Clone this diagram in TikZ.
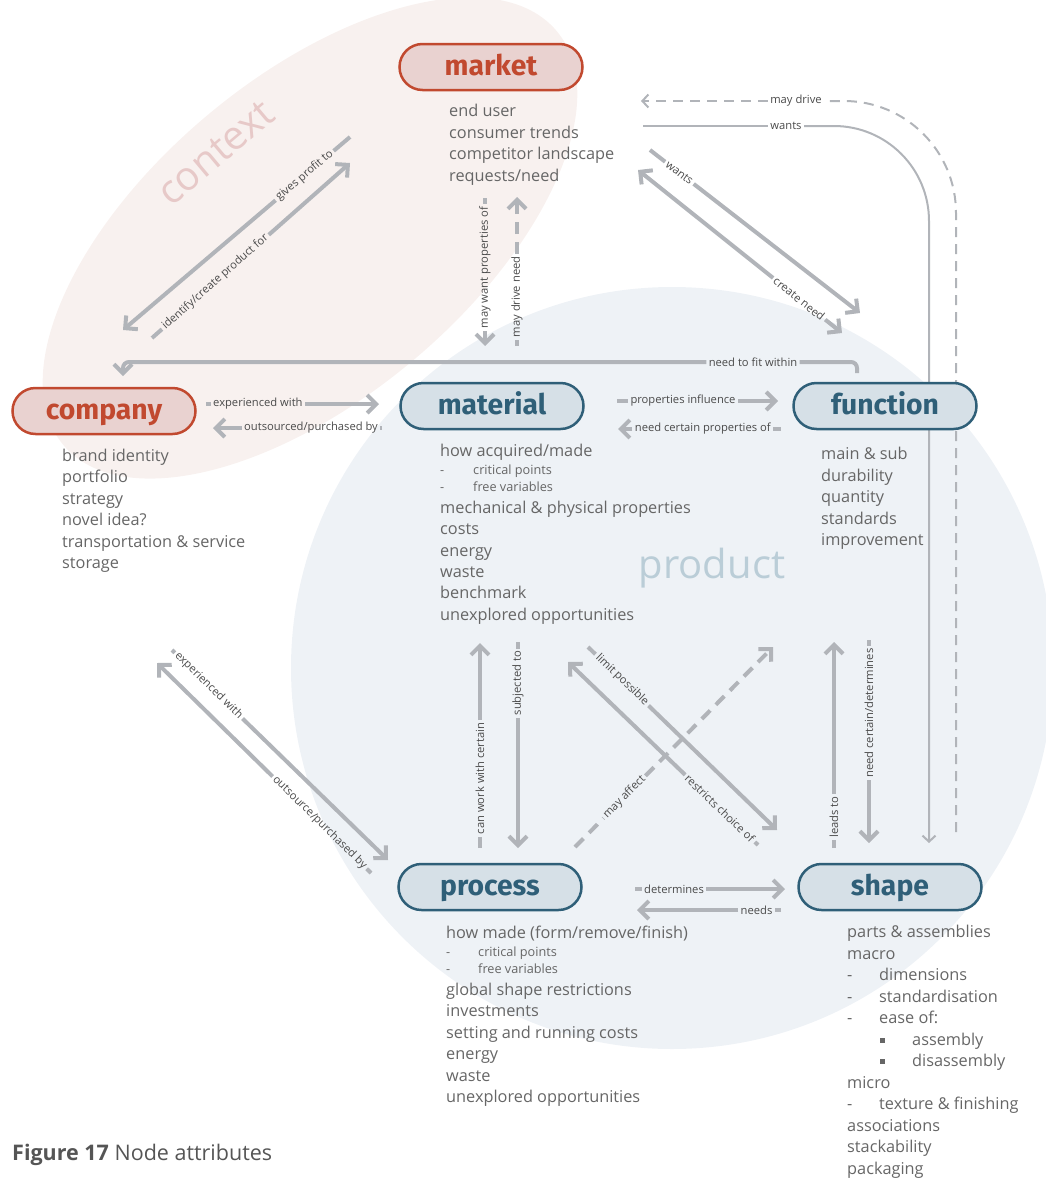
\documentclass[tikz,border=0pt]{standalone}
\usepackage{fontspec}
\setmainfont{Open Sans}
\newfontfamily\titlefont{Fira Sans}
\usetikzlibrary{arrows.meta,calc}

\definecolor{ctxfill}{HTML}{F8F1EF}
\definecolor{prodfill}{HTML}{EEF2F6}
\definecolor{redline}{HTML}{C1492F}
\definecolor{redfill}{HTML}{E9D2D0}
\definecolor{blueline}{HTML}{2F5F78}
\definecolor{bluefill}{HTML}{D6E0E7}
\definecolor{arrowgray}{HTML}{B1B4B9}
\definecolor{bodygray}{HTML}{666666}
\definecolor{lblgray}{HTML}{4A4A4A}
\definecolor{ctxtext}{HTML}{E7C9C8}
\definecolor{prodtext}{HTML}{BACDD7}
\definecolor{capgray}{HTML}{555555}

\tikzset{
  pill/.style={rounded corners=23pt, minimum width=183pt, minimum height=46pt,
    line width=2.5pt, inner sep=0pt, text height=20pt, text depth=4pt,
    font=\titlefont\bfseries\fontsize{28.3}{28}\selectfont},
  redpill/.style={pill, draw=redline, fill=redfill, text=redline},
  bluepill/.style={pill, draw=blueline, fill=bluefill, text=blueline},
  link/.style={draw=arrowgray, line width=4pt},
  fine/.style={draw=arrowgray, line width=2pt},
  headed/.style={-{Straight Barb[length=9pt,width=18pt]}},
  thinhead/.style={-{Straight Barb[length=6pt,width=13pt]}},
  bothheads/.style={{Straight Barb[length=9pt,width=18pt]}-},
  dashlink/.style={dash pattern=on 12pt off 8pt},
  lbl/.style={font=\fontsize{11.2}{13}\selectfont, text=lblgray, inner sep=2.5pt, outer sep=0pt},
  body/.style={font=\fontsize{16.3}{19}\selectfont, text=bodygray, anchor=base west, inner sep=0pt},
  small/.style={font=\fontsize{12.7}{15}\selectfont, text=bodygray, anchor=base west, inner sep=0pt},
  bullet/.style={fill=bodygray, minimum size=5pt, inner sep=0pt},
}

\begin{document}
\begin{tikzpicture}[x=1pt,y=-1pt]
\useasboundingbox (0,0) rectangle (1046,1178);

% background regions
\fill[ctxfill, rotate around={40:(310,238)}] (310,238) ellipse [x radius=322pt, y radius=160pt];
\fill[prodfill] (672,668) circle [radius=381pt];
\node[rotate=40, font=\fontsize{40}{40}\selectfont, text=ctxtext] (ctx) at (216,153) {context};
\node[font=\fontsize{40}{40}\selectfont, text=prodtext] (prod) at (712,568) {product};

% market <-> company
\coordinate (mcA1) at (350,137); \coordinate (mcA2) at (123,330);
\node[lbl, rotate=40.4] (mcAl) at ($(mcA1)!0.2!(mcA2)$) {gives profit to};
\draw[link] (mcA1) -- (mcAl);
\draw[link, headed] (mcAl) -- (mcA2);
\coordinate (mcB1) at (152,338); \coordinate (mcB2) at (350,163);
\node[lbl, rotate=41.5] (mcBl) at ($(mcB1)!0.32!(mcB2)$) {identify/create product for};
\draw[link] (mcB1) -- (mcBl);
\draw[link, headed] (mcBl) -- (mcB2);

% market <-> function
\coordinate (mfA1) at (650,150); \coordinate (mfA2) at (860,313);
\node[lbl, rotate=-37.8] (mfAl) at ($(mfA1)!0.14!(mfA2)$) {wants};
\draw[link] (mfA1) -- (mfAl);
\draw[link, headed] (mfAl) -- (mfA2);
\coordinate (mfB1) at (638,170); \coordinate (mfB2) at (842,333);
\node[lbl, rotate=-38.6] (mfBl) at ($(mfB1)!0.79!(mfB2)$) {create need};
\draw[link, bothheads] (mfB1) -- (mfBl);
\draw[link, headed] (mfBl) -- (mfB2);

% market <-> material
\coordinate (mmA1) at (485,198); \coordinate (mmA2) at (485,346);
\node[lbl, rotate=90] (mmAl) at ($(mmA1)!0.47!(mmA2)$) {may want properties of};
\draw[link] (mmA1) -- (mmAl);
\draw[link, headed] (mmAl) -- (mmA2);
\coordinate (mmB1) at (517,346); \coordinate (mmB2) at (517,197);
\node[lbl, rotate=90] (mmBl) at ($(mmB1)!0.33!(mmB2)$) {may drive need};
\draw[link, dashlink] (mmB1) -- (mmBl);
\draw[link, dashlink, headed] (mmBl) -- (mmB2);

% function -> company
\coordinate (fcA) at (857,373); \coordinate (fcB) at (123,376);
\node[lbl] (fcl) at (753,362) {need to fit within};
\draw[link, rounded corners=6pt] (fcA) |- (fcl);
\draw[link, headed, rounded corners=6pt] (fcl) -| (fcB);

% company <-> material
\coordinate (cmA1) at (206,404); \coordinate (cmA2) at (379,404);
\node[lbl] (cmAl) at ($(cmA1)!0.3!(cmA2)$) {experienced with};
\draw[link] (cmA1) -- (cmAl);
\draw[link, headed] (cmAl) -- (cmA2);
\coordinate (cmB1) at (382,428); \coordinate (cmB2) at (213,428);
\node[lbl] (cmBl) at ($(cmB1)!0.42!(cmB2)$) {outsourced/purchased by};
\draw[link] (cmB1) -- (cmBl);
\draw[link, headed] (cmBl) -- (cmB2);

% material <-> function
\coordinate (mnA1) at (617,401); \coordinate (mnA2) at (778,401);
\node[lbl] (mnAl) at ($(mnA1)!0.41!(mnA2)$) {properties influence};
\draw[link] (mnA1) -- (mnAl);
\draw[link, headed] (mnAl) -- (mnA2);
\coordinate (mnB1) at (781,429); \coordinate (mnB2) at (618,429);
\node[lbl] (mnBl) at ($(mnB1)!0.48!(mnB2)$) {need certain properties of};
\draw[link] (mnB1) -- (mnBl);
\draw[link, headed] (mnBl) -- (mnB2);

% material <-> process
\coordinate (mpA1) at (480,848); \coordinate (mpA2) at (480,643);
\node[lbl, rotate=90] (mpAl) at ($(mpA1)!0.34!(mpA2)$) {can work with certain};
\draw[link] (mpA1) -- (mpAl);
\draw[link, headed] (mpAl) -- (mpA2);
\coordinate (mpB1) at (518,642); \coordinate (mpB2) at (518,848);
\node[lbl, rotate=90] (mpBl) at ($(mpB1)!0.2!(mpB2)$) {subjected to};
\draw[link] (mpB1) -- (mpBl);
\draw[link, headed] (mpBl) -- (mpB2);

% material <-> shape
\coordinate (msA1) at (588,647); \coordinate (msA2) at (777,830);
\node[lbl, rotate=-44.1] (msAl) at ($(msA1)!0.18!(msA2)$) {limit possible};
\draw[link] (msA1) -- (msAl);
\draw[link, headed] (msAl) -- (msA2);
\coordinate (msB1) at (758,845); \coordinate (msB2) at (568,662);
\node[lbl, rotate=-43.9] (msBl) at ($(msB1)!0.2!(msB2)$) {restricts choice of};
\draw[link] (msB1) -- (msBl);
\draw[link, headed] (msBl) -- (msB2);

% process -> function
\coordinate (pfA1) at (575,847); \coordinate (pfA2) at (773,647);
\node[lbl, rotate=45.3] (pfAl) at ($(pfA1)!0.25!(pfA2)$) {may affect};
\draw[link, dashlink] (pfA1) -- (pfAl);
\draw[link, dashlink, headed] (pfAl) -- (pfA2);

% function <-> shape
\coordinate (fsA1) at (834,848); \coordinate (fsA2) at (834,642);
\node[lbl, rotate=90] (fsAl) at ($(fsA1)!0.15!(fsA2)$) {leads to};
\draw[link] (fsA1) -- (fsAl);
\draw[link, headed] (fsAl) -- (fsA2);
\coordinate (fsB1) at (869,640); \coordinate (fsB2) at (869,843);
\node[lbl, rotate=90] (fsBl) at ($(fsB1)!0.36!(fsB2)$) {need certain/determines};
\draw[link] (fsB1) -- (fsBl);
\draw[link, headed] (fsBl) -- (fsB2);

% company <-> process
\coordinate (cpA1) at (172,650); \coordinate (cpA2) at (388,860);
\node[lbl, rotate=-44.2] (cpAl) at ($(cpA1)!0.17!(cpA2)$) {experienced with};
\draw[link] (cpA1) -- (cpAl);
\draw[link, headed] (cpAl) -- (cpA2);
\coordinate (cpB1) at (371,873); \coordinate (cpB2) at (157,663);
\node[lbl, rotate=-44.5] (cpBl) at ($(cpB1)!0.24!(cpB2)$) {outsource/purchased by};
\draw[link] (cpB1) -- (cpBl);
\draw[link, headed] (cpBl) -- (cpB2);

% process <-> shape
\coordinate (psA1) at (635,889); \coordinate (psA2) at (785,889);
\node[lbl] (psAl) at ($(psA1)!0.26!(psA2)$) {determines};
\draw[link] (psA1) -- (psAl);
\draw[link, headed] (psAl) -- (psA2);
\coordinate (psB1) at (781,910); \coordinate (psB2) at (637,910);
\node[lbl] (psBl) at ($(psB1)!0.17!(psB2)$) {needs};
\draw[link] (psB1) -- (psBl);
\draw[link, headed] (psBl) -- (psB2);

% market -> shape, around the right side
\coordinate (mwA) at (643,126); \coordinate (mwB) at (929,843);
\node[lbl] (mwl) at (786,126) {wants};
\draw[fine] (mwA) -- (mwl);
\draw[fine, thinhead, rounded corners=95pt] (mwl) -| (mwB);
\coordinate (mdA) at (956,832); \coordinate (mdB) at (641,101);
\node[lbl] (mdl) at (796,101) {may drive};
\draw[fine, dash pattern=on 10pt off 7pt, rounded corners=112pt] (mdA) |- (mdl);
\draw[fine, dash pattern=on 10pt off 7pt, thinhead] (mdl) -- (mdB);

% the six entities
\node[redpill] (market) at (491,67) {market};
\node[redpill] (company) at (104,411) {company};
\node[bluepill] (material) at (492,406) {material};
\node[bluepill] (function) at (885,406) {function};
\node[bluepill] (process) at (490,887) {process};
\node[bluepill] (shape) at (890,887) {shape};

% attribute lists
\foreach \t [count=\i] in {end user, consumer trends, competitor landscape, requests/need}
  \node[body] (mk\i) at (449, {116.5+(\i-1)*21.6}) {\t};
\foreach \t [count=\i] in {brand identity, portfolio, strategy, novel idea?, transportation \& service, storage}
  \node[body] (co\i) at (62, {461.5+(\i-1)*21.4}) {\t};
\foreach \t [count=\i] in {main \& sub, durability, quantity, standards, improvement}
  \node[body] (fu\i) at (821, {459.5+(\i-1)*21.6}) {\t};

\node[body] (ma1) at (440,456.5) {how acquired/made};
\node[small] (ma2d) at (440,474) {-};
\node[small] (ma2) at (473,474) {critical points};
\node[small] (ma3d) at (440,491) {-};
\node[small] (ma3) at (473,491) {free variables};
\foreach \t/\y [count=\i] in {mechanical \& physical properties/508, costs/529, energy/551, waste/572, benchmark/593, unexplored opportunities/615}
  \node[body] (mb\i) at (440, {\y+5.5}) {\t};

\node[body] (pr1) at (446,938.5) {how made (form/remove/finish)};
\node[small] (pr2d) at (446,956) {-};
\node[small] (pr2) at (478,956) {critical points};
\node[small] (pr3d) at (446,973) {-};
\node[small] (pr3) at (478,973) {free variables};
\foreach \t/\y [count=\i] in {global shape restrictions/990, investments/1011, setting and running costs/1033, energy/1054, waste/1076, unexplored opportunities/1097}
  \node[body] (pb\i) at (446, {\y+5.5}) {\t};

\node[body] (sh1) at (847,937.5) {parts \& assemblies};
\node[body] (sh2) at (847,959.5) {macro};
\node[body] (sh3d) at (847,980.5) {-};
\node[body] (sh3) at (879,980.5) {dimensions};
\node[body] (sh4d) at (847,1002.5) {-};
\node[body] (sh4) at (879,1002.5) {standardisation};
\node[body] (sh5d) at (847,1023.5) {-};
\node[body] (sh5) at (879,1023.5) {ease of:};
\node[bullet] (sh6b) at (882.5,1040) {};
\node[body] (sh6) at (912,1045.5) {assembly};
\node[bullet] (sh7b) at (882.5,1061) {};
\node[body] (sh7) at (912,1066.5) {disassembly};
\node[body] (sh8) at (847,1088.5) {micro};
\node[body] (sh9d) at (847,1109.5) {-};
\node[body] (sh9) at (879,1109.5) {texture \& finishing};
\node[body] (sh10) at (847,1131.5) {associations};
\node[body] (sh11) at (847,1152.5) {stackability};
\node[body] (sh12) at (847,1174.5) {packaging};

% caption
\node[anchor=base west, inner sep=0pt, text=capgray, font=\fontsize{21.5}{24}\selectfont] (cap) at (12,1160) {\textbf{Figure 17} Node attributes};
\end{tikzpicture}
\end{document}
